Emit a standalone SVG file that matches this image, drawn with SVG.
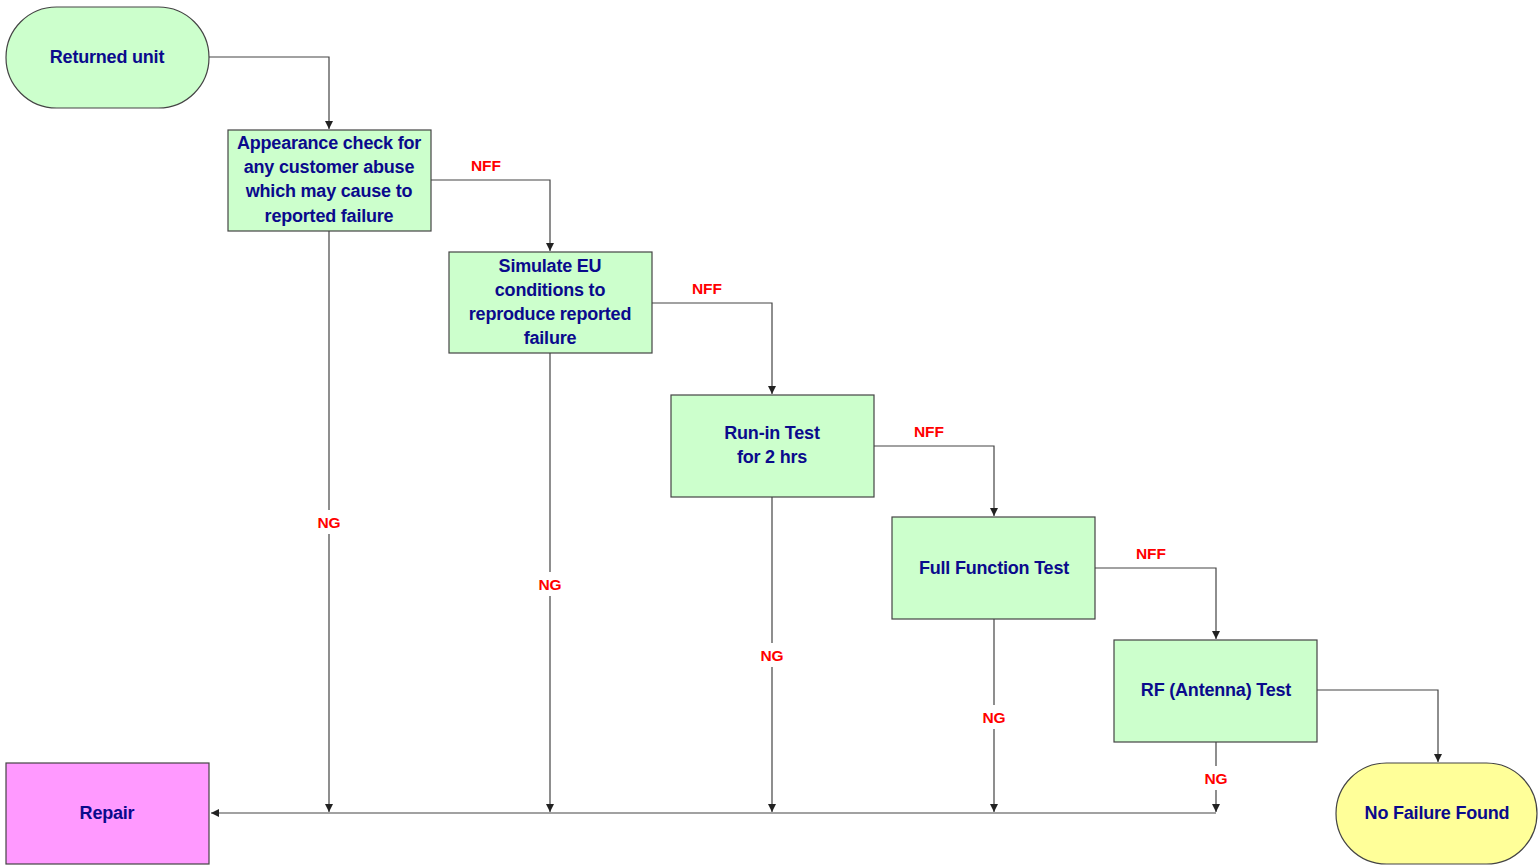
<svg xmlns="http://www.w3.org/2000/svg" width="1538" height="866" viewBox="0 0 1538 866">
<defs>
<marker id="arr" markerWidth="10" markerHeight="10" refX="8" refY="4" orient="auto" markerUnits="userSpaceOnUse">
<path d="M0,0 L8,4 L0,8 Z" fill="#222"/>
</marker>
<style>
.box{fill:#ccffcc;stroke:#444;stroke-width:1.2}
.t{font-family:"Liberation Sans",Arial,sans-serif;font-weight:bold;font-size:18px;fill:#0a0a8c;text-anchor:middle;dominant-baseline:central;letter-spacing:-0.2px}
.lbl{font-family:"Liberation Sans",Arial,sans-serif;font-weight:bold;font-size:15.5px;fill:#ff0000;text-anchor:middle;dominant-baseline:central}
.c{fill:none;stroke:#444;stroke-width:1.2}
</style>
</defs>
<rect width="1538" height="866" fill="#ffffff"/>
<g id="connectors">
<path class="c" d="M209,57 H329 V129" marker-end="url(#arr)"/>
<path class="c" d="M431,180 H550 V251" marker-end="url(#arr)"/>
<path class="c" d="M652,303 H772 V394" marker-end="url(#arr)"/>
<path class="c" d="M874,446 H994 V516" marker-end="url(#arr)"/>
<path class="c" d="M1095,568 H1216 V639" marker-end="url(#arr)"/>
<path class="c" d="M1317,690 H1438 V762" marker-end="url(#arr)"/>
<path class="c" d="M329,231 V510"/>
<path class="c" d="M329,534 V812" marker-end="url(#arr)"/>
<path class="c" d="M550,353 V572"/>
<path class="c" d="M550,596 V812" marker-end="url(#arr)"/>
<path class="c" d="M772,497 V643"/>
<path class="c" d="M772,667 V812" marker-end="url(#arr)"/>
<path class="c" d="M994,619 V705"/>
<path class="c" d="M994,729 V812" marker-end="url(#arr)"/>
<path class="c" d="M1216,742 V766"/>
<path class="c" d="M1216,790 V812" marker-end="url(#arr)"/>
<path class="c" d="M1216,813 H211" marker-end="url(#arr)"/>
<text class="lbl" x="486" y="165">NFF</text>
<text class="lbl" x="707" y="288">NFF</text>
<text class="lbl" x="929" y="431">NFF</text>
<text class="lbl" x="1151" y="553">NFF</text>
<text class="lbl" x="329" y="522">NG</text>
<text class="lbl" x="550" y="584">NG</text>
<text class="lbl" x="772" y="655">NG</text>
<text class="lbl" x="994" y="717">NG</text>
<text class="lbl" x="1216" y="778">NG</text>
</g>
<g id="returned">
<rect class="box" x="6" y="7" width="203" height="101" rx="50.5" ry="50.5"/>
<text class="t" x="107" y="57">Returned unit</text>
</g>
<g id="appearance">
<rect class="box" x="228" y="130" width="203" height="101"/>
<text class="t" x="329" y="143">Appearance check for</text>
<text class="t" x="329" y="167">any customer abuse</text>
<text class="t" x="329" y="191">which may cause to</text>
<text class="t" x="329" y="216">reported failure</text>
</g>
<g id="simulate">
<rect class="box" x="449" y="252" width="203" height="101"/>
<text class="t" x="550" y="266">Simulate EU</text>
<text class="t" x="550" y="290">conditions to</text>
<text class="t" x="550" y="314">reproduce reported</text>
<text class="t" x="550" y="338">failure</text>
</g>
<g id="runin">
<rect class="box" x="671" y="395" width="203" height="102"/>
<text class="t" x="772" y="433">Run-in Test</text>
<text class="t" x="772" y="457">for 2 hrs</text>
</g>
<g id="fullfunction">
<rect class="box" x="892" y="517" width="203" height="102"/>
<text class="t" x="994" y="568">Full Function Test</text>
</g>
<g id="rf">
<rect class="box" x="1114" y="640" width="203" height="102"/>
<text class="t" x="1216" y="690">RF (Antenna) Test</text>
</g>
<g id="repair">
<rect x="6" y="763" width="203" height="101" fill="#ff99ff" stroke="#444" stroke-width="1.2"/>
<text class="t" x="107" y="813">Repair</text>
</g>
<g id="nff">
<rect x="1336" y="763" width="201" height="101" rx="50.5" ry="50.5" fill="#ffff99" stroke="#444" stroke-width="1.2"/>
<text class="t" x="1437" y="813">No Failure Found</text>
</g>
</svg>
